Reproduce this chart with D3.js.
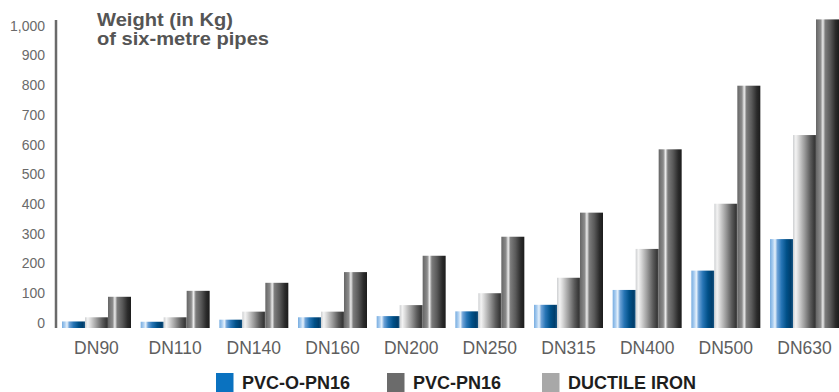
<!DOCTYPE html>
<html>
<head>
<meta charset="utf-8">
<script src="https://cdn.jsdelivr.net/npm/d3@7"></script>
<style>
  html, body { margin: 0; padding: 0; background: #fff; }
  svg { display: block; font-family: "Liberation Sans", Arial, sans-serif; }
</style>
</head>
<body>
<svg width="839" height="392"></svg>
<script>
// data
var categories = ["DN90", "DN110", "DN140", "DN160", "DN200", "DN250", "DN315", "DN400", "DN500", "DN630"];
var seriesNames = ["PVC-O-PN16", "DUCTILE IRON", "PVC-PN16"]; // bar order inside each group
var pvcO = [22, 21, 28, 36, 40, 56, 78, 128, 193, 299];
var ductile = [36, 36, 55, 55, 77, 117, 169, 266, 418, 649];
var pvc = [105, 125, 152, 188, 243, 307, 388, 601, 815, 1038];
var yTicks = [0, 100, 200, 300, 400, 500, 600, 700, 800, 900, 1000];
var legendOrder = ["PVC-O-PN16", "PVC-PN16", "DUCTILE IRON"];
var titleLines = ["Weight (in Kg)", "of six-metre pipes"];

var seriesValues = { "PVC-O-PN16": pvcO, "DUCTILE IRON": ductile, "PVC-PN16": pvc };

var svg = d3.select("svg");
var defs = svg.append("defs");

// cylinder-like shading for each series
var gradients = {
    "PVC-O-PN16": [[0, "#78ade0"], [0.12, "#a9cdf0"], [0.22, "#e6f1fb"], [0.32, "#6ea3d8"], [0.5, "#2775b5"], [0.72, "#005088"], [0.9, "#003e6c"], [1, "#1a5886"]],
    "DUCTILE IRON": [[0, "#cdcfd1"], [0.12, "#f3f3f3"], [0.24, "#d9d9d9"], [0.5, "#9b9b9b"], [0.75, "#5c5c5c"], [0.93, "#383838"], [1, "#505050"]],
    "PVC-PN16": [[0, "#666"], [0.2, "#8c8c8c"], [0.3, "#ececec"], [0.4, "#7c7c7c"], [0.62, "#5a5a5a"], [0.85, "#2b2b2b"], [1, "#1c1c1c"]]
};
var legendColors = { "PVC-O-PN16": "#0a72c0", "PVC-PN16": "#6b6b6b", "DUCTILE IRON": "#a8a8a8" };

seriesNames.forEach(function (name, i) {
    var g = defs.append("linearGradient")
        .attr("id", "grad" + i)
        .attr("x1", "0").attr("x2", "1").attr("y1", "0").attr("y2", "0");
    gradients[name].forEach(function (s) {
        g.append("stop").attr("offset", s[0]).attr("stop-color", s[1]);
    });
});

var x0 = d3.scaleBand()
    .domain(categories)
    .range([62, 839])
    .paddingInner(0.123)
    .paddingOuter(0);

var x1 = d3.scaleBand()
    .domain(seriesNames)
    .range([0, x0.bandwidth()]);

var y = d3.scaleLinear()
    .domain([0, 1000])
    .range([328, 30.7]);

// y axis
var yAxis = svg.append("g").attr("class", "y-axis");
yAxis.append("line")
    .attr("x1", 56).attr("x2", 56)
    .attr("y1", 20).attr("y2", y(0))
    .attr("stroke", "#6a6a6a")
    .attr("stroke-width", 2.5);
yAxis.selectAll("text")
    .data(yTicks).enter().append("text")
    .attr("x", 45)
    .attr("y", function (d) { return y(d) - 5; })
    .attr("dy", "0.35em")
    .attr("text-anchor", "end")
    .attr("font-size", 14)
    .attr("fill", "#6a6a6a")
    .text(d3.format(","));

// bars
var groups = svg.append("g").attr("class", "bars")
    .selectAll("g")
    .data(categories).enter().append("g")
    .attr("transform", function (d) { return "translate(" + x0(d) + ",0)"; });

groups.selectAll("rect")
    .data(function (cat, ci) {
        return seriesNames.map(function (name, si) {
            return { name: name, idx: si, value: seriesValues[name][ci] };
        });
    })
    .enter().append("rect")
    .attr("x", function (d) { return x1(d.name); })
    .attr("y", function (d) { return y(d.value); })
    .attr("width", x1.bandwidth())
    .attr("height", function (d) { return y(0) - y(d.value); })
    .attr("fill", function (d) { return "url(#grad" + d.idx + ")"; });

// category labels
svg.append("g").attr("class", "x-labels")
    .selectAll("text")
    .data(categories).enter().append("text")
    .attr("x", function (d) { return x0(d) + x0.bandwidth() / 2; })
    .attr("y", 354)
    .attr("text-anchor", "middle")
    .attr("font-size", 17.5)
    .attr("fill", "#5e5e5e")
    .text(function (d) { return d; });

// title, wide bold face in the original
var titleWidths = [136, 172];
svg.append("g").attr("class", "title")
    .selectAll("text")
    .data(titleLines).enter().append("text")
    .attr("x", 97)
    .attr("y", function (d, i) { return 25.5 + i * 19; })
    .attr("font-size", 18)
    .attr("font-weight", "bold")
    .attr("fill", "#555")
    .attr("textLength", function (d, i) { return titleWidths[i]; })
    .attr("lengthAdjust", "spacingAndGlyphs")
    .text(function (d) { return d; });

// legend
var legendX = [216, 387, 542];
var legend = svg.append("g").attr("class", "legend")
    .selectAll("g")
    .data(legendOrder).enter().append("g")
    .attr("transform", function (d, i) { return "translate(" + legendX[i] + ",373)"; });
legend.append("rect")
    .attr("width", 17.5).attr("height", 19)
    .attr("fill", function (d) { return legendColors[d]; });
legend.append("text")
    .attr("x", 26)
    .attr("y", 16)
    .attr("font-size", 18)
    .attr("font-weight", "bold")
    .attr("fill", "#1e1e1e")
    .text(function (d) { return d; });
</script>
</body>
</html>
